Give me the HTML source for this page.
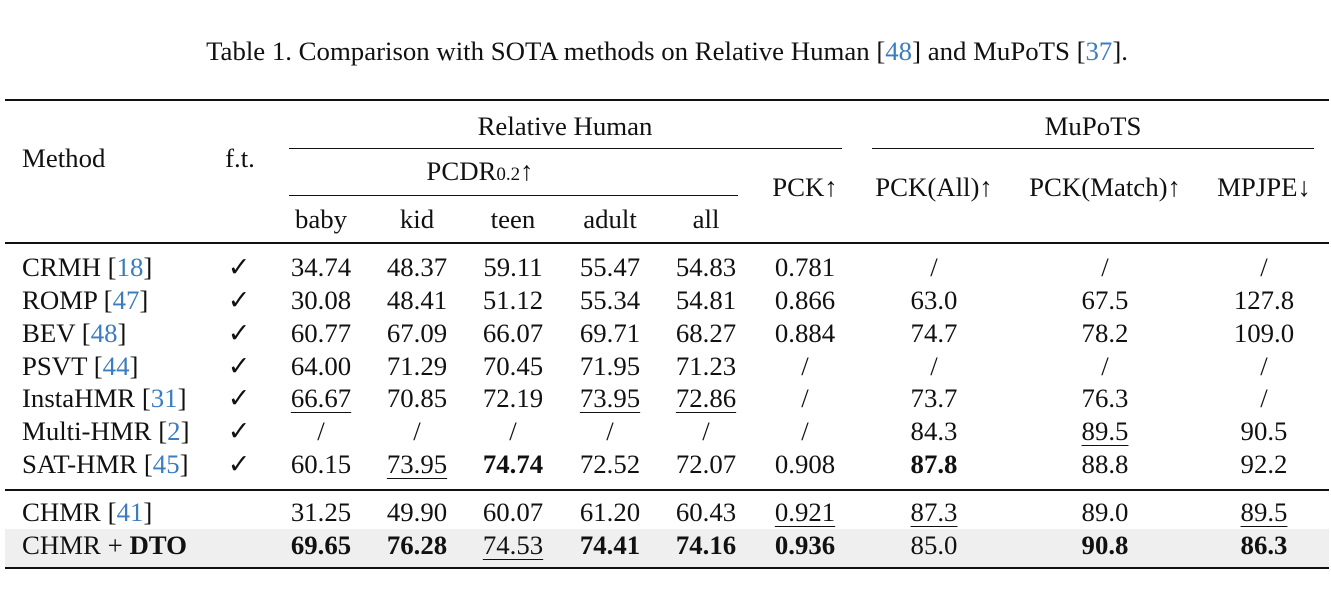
<!DOCTYPE html>
<html><head><meta charset="utf-8"><style>
body{margin:0;width:1331px;height:599px;background:#fff;position:relative;overflow:hidden;font-family:"Liberation Serif",serif;color:#111}
.t{position:absolute;font-size:26.8px;line-height:30px;white-space:nowrap;transform:translate(-50%,-50%)}
.l{position:absolute;font-size:26.8px;line-height:30px;white-space:nowrap;transform:translateY(-50%)}
.r{position:absolute;background:#111}
.c{color:#3b7dbf}
.u{text-decoration:underline;text-underline-offset:5px;text-decoration-thickness:1px}
b{font-weight:bold}
</style></head><body>
<div class="t" style="left:667px;top:51px">Table 1. Comparison with SOTA methods on Relative Human [<span class="c">48</span>] and MuPoTS [<span class="c">37</span>].</div>
<div class="r" style="left:5px;top:99px;width:1324px;height:2px"></div>
<div style="position:absolute;left:5px;top:529px;width:1324px;height:38px;background:#efefef"></div>
<div class="t" style="left:565px;top:126px">Relative Human</div>
<div class="t" style="left:1093px;top:126px">MuPoTS</div>
<div class="r" style="left:289px;top:148px;width:553px;height:1px"></div>
<div class="r" style="left:872px;top:148px;width:442px;height:1px"></div>
<div class="t" style="left:480px;top:173px">PCDR<span style="font-size:19px">0.2</span>↑</div>
<div class="r" style="left:289px;top:195px;width:449px;height:1px"></div>
<div class="l" style="left:22px;top:158px">Method</div>
<div class="t" style="left:240px;top:158px">f.t.</div>
<div id="heads"></div>
<div class="r" style="left:5px;top:242px;width:1324px;height:1.5px"></div>
<div class="r" style="left:5px;top:489px;width:1324px;height:1.5px"></div>
<div class="r" style="left:5px;top:567px;width:1324px;height:2px"></div>
<div id="body"></div>
<script>
const colX=[321,417,513,610,706,805,934,1105,1264];
const heads=[["baby",219],["kid",219],["teen",219],["adult",219],["all",219],["PCK↑",187],["PCK(All)↑",187],["PCK(Match)↑",187],["MPJPE↓",187]];
const rows=[
["CRMH","18",1,["34.74","48.37","59.11","55.47","54.83","0.781","/","/","/"],267],
["ROMP","47",1,["30.08","48.41","51.12","55.34","54.81","0.866","63.0","67.5","127.8"],300],
["BEV","48",1,["60.77","67.09","66.07","69.71","68.27","0.884","74.7","78.2","109.0"],333],
["PSVT","44",1,["64.00","71.29","70.45","71.95","71.23","/","/","/","/"],366],
["InstaHMR","31",1,["_66.67","70.85","72.19","_73.95","_72.86","/","73.7","76.3","/"],398],
["Multi-HMR","2",1,["/","/","/","/","/","/","84.3","_89.5","90.5"],431],
["SAT-HMR","45",1,["60.15","_73.95","*74.74","72.52","72.07","0.908","*87.8","88.8","92.2"],464],
["CHMR","41",0,["31.25","49.90","60.07","61.20","60.43","_0.921","_87.3","89.0","_89.5"],512],
["CHMR + <b>DTO</b>","",0,["*69.65","*76.28","_74.53","*74.41","*74.16","*0.936","85.0","*90.8","*86.3"],545]];
let h='';
heads.forEach((hd,i)=>{h+=`<div class="t" style="left:${colX[i]}px;top:${hd[1]}px">${hd[0]}</div>`;});
document.getElementById('heads').innerHTML=h;
let s='';
rows.forEach((r,ri)=>{
 s+=`<div class="l" style="left:22px;top:${r[4]}px">${r[0]}${r[1]?` [<span class="c">${r[1]}</span>]`:''}</div>`;
 if(r[2]) s+=`<div class="t" style="left:239px;top:${r[4]}px">✓</div>`;
 r[3].forEach((v,i)=>{let t=v,cls='';
  if(v[0]=='_'){t=v.slice(1);cls='u';} else if(v[0]=='*'){t='<b>'+v.slice(1)+'</b>';}
  s+=`<div class="t" style="left:${colX[i]}px;top:${r[4]}px"><span class="${cls}">${t}</span></div>`;});
});
document.getElementById('body').innerHTML=s;
</script>
</body></html>
